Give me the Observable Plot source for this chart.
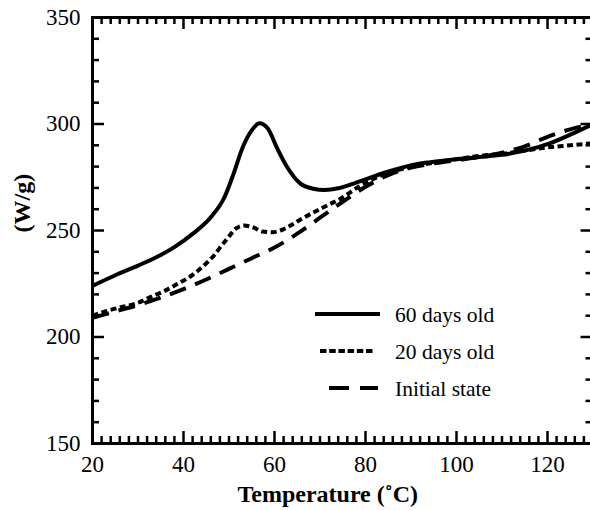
<!DOCTYPE html>
<html><head><meta charset="utf-8">
<script src="https://cdn.jsdelivr.net/npm/d3@7"></script>
<script src="https://cdn.jsdelivr.net/npm/@observablehq/plot@0.6"></script>
<style>
body{margin:0;background:#fff}
#wrap{position:relative;width:590px;height:510px;overflow:hidden;background:#fff}
</style>
</head><body><div id="wrap"></div>
<script>
// ---- data ----
const seriesNames = ["60 days old", "20 days old", "Initial state"];
const temp60 = [20,25,30,35,38,42,46,49,51,53,55,56.7,58.5,60.5,62.8,65.7,68.5,71,74,77,80,84,88,92,96,100,105,110,115,120,125,130];
const heat60 = [224,229,233.5,238.5,242.2,248.4,256.2,265.6,276.6,289,297,300.4,298,289,279.7,272,269.6,269,269.8,271.8,274,277,279.5,281.5,282.5,283.5,284.5,285.5,287.5,290.5,295,300];
const temp20 = [20,23.2,26.9,29.8,32.7,35.7,39.3,41.5,44.5,46.7,48.1,50,51.4,53.3,55.5,57.3,59.5,61.3,63.5,66,69.4,72,74.5,78.9,82,85.5,90,95,100,105,110,115,120,125,130];
const heat20 = [210,212.3,214.3,215.9,218.7,221.5,225.7,228.4,233.6,238.3,242.2,247.2,250.8,252.3,251.3,249.5,249.2,250,252.3,255.5,259.4,262.2,264.9,271.1,274.5,277.4,279.8,281.8,283.5,285,286,287.5,289,290,291];
const tempInit = [20,25,30,35,40,45,50,55,60,65,70,75,80,85,90,95,100,105,110,115,120,125,130];
const heatInit = [209,212,215,218.5,222.5,227,232,237,242,248.5,256,263.5,270.5,276,279.5,281.5,283,284.5,286.5,289.5,294,297.5,300];
const xTicks = [20,40,60,80,100,120];
const yTicks = [150,200,250,300,350];
const xLabel = "Temperature (˚C)";
const yLabel = "(W/g)";

// ---- build table ----
const rows = [];
[[temp60,heat60],[temp20,heat20],[tempInit,heatInit]].forEach(([xs,ys],i)=>{
  xs.forEach((x,j)=>rows.push({series: seriesNames[i], t: x, v: ys[j]}));
});
const styles = {
  "60 days old": {dash: null, w: 4},
  "20 days old": {dash: "6,3.5", w: 4},
  "Initial state": {dash: "17,10", w: 4}
};

const FONT = "Liberation Serif";
const W = 590, Ht = 510, mL = 92, mT = 17, mB = 67, mR = -2.5;
const H = Ht - mT - mB, FW = W - mL - mR;
const xMinor = d3.range(20, 131, 2).filter(d => !xTicks.includes(d));
const yMinor = d3.range(150, 351, 10).filter(d => !yTicks.includes(d));
const minorLen = 7, majorLen = 12, tickW = 2.5;

const lineMarks = seriesNames.map(s => Plot.line(rows.filter(r => r.series === s), {
  x: "t", y: "v", stroke: "black", strokeWidth: styles[s].w,
  strokeDasharray: styles[s].dash, curve: "monotone-x", strokeLinecap: "butt"
}));

const chart = Plot.plot({
  width: W, height: Ht,
  marginLeft: mL, marginTop: mT, marginBottom: mB, marginRight: mR,
  x: {domain: [20, 130]},
  y: {domain: [150, 350]},
  style: {fontSize: "23px", background: "white", color: "black"},
  marks: [
    ...lineMarks,
    Plot.ruleX(xMinor, {x: d => d, insetTop: H - minorLen, stroke: "black", strokeWidth: tickW}),
    Plot.ruleX(xTicks, {x: d => d, insetTop: H - majorLen, stroke: "black", strokeWidth: tickW}),
    Plot.ruleX(xMinor, {x: d => d, insetBottom: H - minorLen, stroke: "black", strokeWidth: tickW}),
    Plot.ruleX(xTicks, {x: d => d, insetBottom: H - majorLen, stroke: "black", strokeWidth: tickW}),
    Plot.ruleY(yMinor, {y: d => d, insetRight: FW - minorLen, stroke: "black", strokeWidth: tickW}),
    Plot.ruleY(yTicks, {y: d => d, insetRight: FW - majorLen, stroke: "black", strokeWidth: tickW}),
    Plot.ruleY(yMinor, {y: d => d, insetLeft: FW - minorLen, stroke: "black", strokeWidth: tickW}),
    Plot.ruleY(yTicks, {y: d => d, insetLeft: FW - majorLen, stroke: "black", strokeWidth: tickW}),
    Plot.frame({stroke: "black", strokeWidth: 3}),
    Plot.axisX({ticks: xTicks, tickSize: 0, tickPadding: 12, label: null, fontSize: 23}),
    Plot.axisY({ticks: yTicks, tickSize: 0, tickPadding: 12, label: null, fontSize: 23}),
    Plot.text([xLabel], {frameAnchor: "bottom", lineAnchor: "bottom", dy: 58.5, dx: -15, fontWeight: "bold", fontSize: 24}),
    Plot.text([yLabel], {frameAnchor: "left", rotate: -90, dx: -70, dy: 2, fontWeight: "bold", fontSize: 24})
  ]
});
document.getElementById("wrap").appendChild(chart);

// ---- legend ----
const svg = d3.select(chart);
const leg = svg.append("g").attr("font-size", 21.5).attr("text-anchor", "start");
const legendRows = [
  {name: seriesNames[0], y: 314, x1: 315, x2: 380, dash: null},
  {name: seriesNames[1], y: 351, x1: 320, x2: 375, dash: "6.5,2.7"},
  {name: seriesNames[2], y: 388, x1: 329, x2: 378, dash: "20,11"}
];
legendRows.forEach(r => {
  leg.append("line").attr("x1", r.x1).attr("x2", r.x2).attr("y1", r.y).attr("y2", r.y)
    .attr("stroke", "black").attr("stroke-width", 4).attr("stroke-dasharray", r.dash);
  leg.append("text").attr("x", 395).attr("y", r.y + 8).attr("fill", "black").attr("text-anchor", "start").text(r.name);
});
svg.attr("font-family", FONT).style("font-family", FONT);
svg.selectAll("g, text, tspan").attr("font-family", FONT).style("font-family", FONT);
</script>
</body></html>
